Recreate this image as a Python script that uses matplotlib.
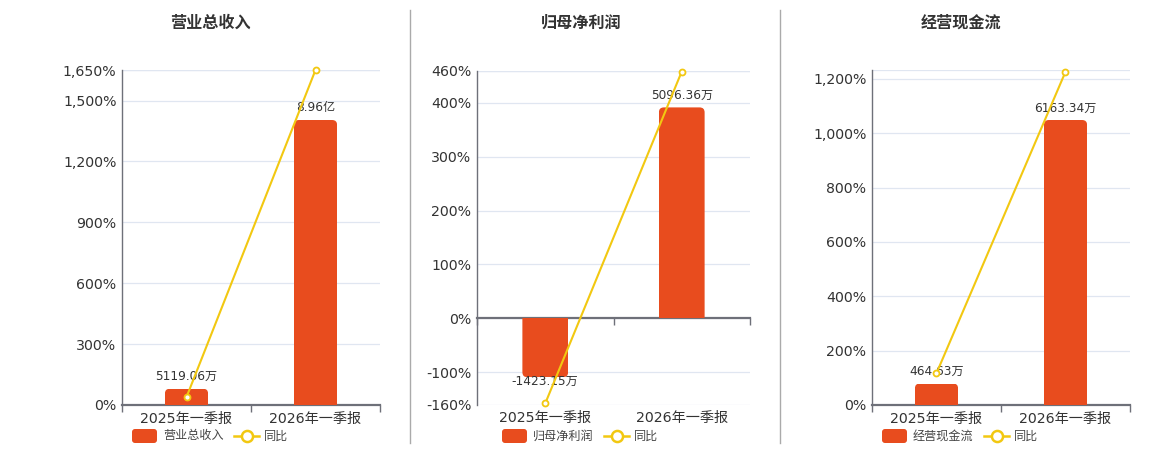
import matplotlib
matplotlib.use("Agg")
import matplotlib.pyplot as plt
from matplotlib.patches import FancyBboxPatch
from matplotlib.lines import Line2D

plt.rcParams['font.family'] = ['DejaVu Sans', 'Noto Sans CJK SC']
plt.rcParams['axes.unicode_minus'] = False

# ---------------- data ----------------
categories = ['2025年一季报', '2026年一季报']

titles = ['营业总收入', '归母净利润', '经营现金流']

revenue = [5119.06, 89600.0]            # 万
revenue_labels = ['5119.06万', '8.96亿']
revenue_yoy = [39.0, 1650.3]             # %

profit = [-1423.15, 5096.36]             # 万
profit_labels = ['-1423.15万', '5096.36万']
profit_yoy = [-158.0, 458.1]

cashflow = [464.63, 6163.34]             # 万
cashflow_labels = ['464.63万', '6163.34万']
cashflow_yoy = [117.0, 1226.5]

revenue_ticks = [0, 300, 600, 900, 1200, 1500, 1650]
profit_ticks = [-160, -100, 0, 100, 200, 300, 400, 460]
cashflow_ticks = [0, 200, 400, 600, 800, 1000, 1200]

legend_line_name = '同比'

# ---------------- style ----------------
W, H = 1160, 450
BAR_C = '#e84c1e'
LINE_C = '#f2c811'
AXIS_C = '#6e7079'
GRID_C = '#e0e6f1'
TEXT_C = '#333333'

fig = plt.figure(figsize=(W / 100, H / 100), dpi=100)


def px_axes(left, top, right, bottom):
    return [left / W, (H - bottom) / H, (right - left) / W, (bottom - top) / H]


def rounded_bars(ax, xs, vals, width, r_px):
    bars = ax.bar(xs, vals, width, color=BAR_C, linewidth=0)
    p0 = ax.transData.transform((0, 0))
    p1 = ax.transData.transform((1, 1))
    xpx = p1[0] - p0[0]
    ypx = p1[1] - p0[1]
    ext = r_px / ypx
    for rect, v in zip(bars.patches, vals):
        x0 = rect.get_x()
        w = rect.get_width()
        if v >= 0:
            yb, hh = -ext, v + ext
        else:
            yb, hh = v, -v + ext
        fp = FancyBboxPatch((x0, yb), w, hh,
                            boxstyle=f"round,pad=0,rounding_size={r_px / xpx}",
                            mutation_aspect=xpx / ypx,
                            facecolor=BAR_C, edgecolor='none', zorder=2)
        ax.add_patch(fp)
        fp.set_clip_path(rect)
        rect.set_visible(False)
    return bars


def panel(box, title, title_x, vals, labels, yoy, ticks, ylim, bar_lim,
          legend_x):
    axg = fig.add_axes(px_axes(*box))
    axg.set_xlim(-0.5, 1.5)
    axg.set_ylim(*ylim)
    axg.set_yticks(ticks)
    axg.set_yticklabels([f'{t:,}%' for t in ticks])
    axg.tick_params(axis='y', length=0, pad=4, labelsize=10.2, labelcolor=TEXT_C)
    axg.set_xticks(range(len(categories)))
    axg.set_xticklabels(categories)
    axg.set_xticks([-0.5, 0.5, 1.5], minor=True)
    axg.tick_params(axis='x', which='major', length=0, pad=5, labelsize=10.2,
                    labelcolor=TEXT_C)
    for s in ['top', 'right']:
        axg.spines[s].set_visible(False)
    axg.spines['left'].set_color(AXIS_C)
    axg.spines['left'].set_linewidth(1.0)
    for t in ticks:
        axg.axhline(t, color=GRID_C, lw=0.9, zorder=0)
    axg.axhline(ylim[1], color=GRID_C, lw=0.9, zorder=0)

    if ylim[0] < 0:
        axg.spines['bottom'].set_visible(False)
        axg.tick_params(axis='x', which='minor', length=0)
        loc = (0 - ylim[0]) / (ylim[1] - ylim[0])
        sec = axg.secondary_xaxis(loc)
        sec.set_xticks([-0.5, 0.5, 1.5])
        sec.set_xticklabels([])
        sec.tick_params(length=5, width=1, color=AXIS_C, direction='out')
        sec.spines['bottom'].set_color(AXIS_C)
        sec.spines['bottom'].set_linewidth(1.6)
    else:
        axg.spines['bottom'].set_color(AXIS_C)
        axg.spines['bottom'].set_linewidth(1.6)
        axg.tick_params(axis='x', which='minor', length=5, width=1,
                        color=AXIS_C)

    axb = axg.twinx()
    axb.set_xlim(-0.5, 1.5)
    axb.set_ylim(*bar_lim)
    axb.axis('off')
    xs = list(range(len(categories)))
    rounded_bars(axb, xs, vals, 0.335, 5)
    for x, v, lab in zip(xs, vals, labels):
        if v >= 0:
            axb.annotate(lab, (x, v), xytext=(0, 4), textcoords='offset points',
                         ha='center', va='bottom', fontsize=8.7, color=TEXT_C)
        else:
            axb.annotate(lab, (x, v), xytext=(0, 1.5), textcoords='offset points',
                         ha='center', va='top', fontsize=8.7, color=TEXT_C)

    axl = axg.twinx()
    axl.set_xlim(-0.5, 1.5)
    axl.set_ylim(*ylim)
    axl.axis('off')
    axl.plot(xs, yoy, color=LINE_C, lw=1.5, marker='o', markersize=4.3,
             markerfacecolor='white', markeredgecolor=LINE_C,
             markeredgewidth=1.3, clip_on=False, zorder=5)

    fig.text(title_x / W, 1 - 23 / H, title, ha='center', va='center',
             fontsize=11.6, fontweight='bold', color=TEXT_C)

    # legend
    lx = legend_x
    ly = 436
    rect = FancyBboxPatch((lx / W, (H - ly - 7) / H), 25 / W, 14 / H,
                          boxstyle=f"round,pad=0,rounding_size={3 / W}",
                          mutation_aspect=W / H, transform=fig.transFigure,
                          facecolor=BAR_C, edgecolor='none')
    fig.add_artist(rect)
    fig.text((lx + 31) / W, 1 - ly / H, title, ha='left', va='center',
             fontsize=8.7, color='#444444')
    l2x = lx + 102
    fig.add_artist(Line2D([l2x / W, (l2x + 25) / W], [1 - ly / H, 1 - ly / H],
                          transform=fig.transFigure, color=LINE_C, lw=1.8))
    fig.add_artist(Line2D([(l2x + 12.5) / W], [1 - ly / H],
                          transform=fig.transFigure, marker='o', markersize=8,
                          markerfacecolor='white', markeredgecolor=LINE_C,
                          markeredgewidth=1.8, linestyle='none'))
    fig.text((l2x + 30) / W, 1 - ly / H, legend_line_name, ha='left',
             va='center', fontsize=8.7, color='#444444')


panel((122, 70, 380, 405), titles[0], 210, revenue, revenue_labels,
      revenue_yoy, revenue_ticks, (0, max(revenue_yoy)),
      (0, max(revenue) * 335 / 285), 132)

k = max(profit) / 391.5
panel((477, 70.5, 750, 404.5), titles[1], 581, profit, profit_labels,
      profit_yoy, profit_ticks, (-160, 460), (-160 * k, 460 * k), 502)

panel((872, 70, 1130, 405), titles[2], 961, cashflow, cashflow_labels,
      cashflow_yoy, cashflow_ticks, (0, 1233),
      (0, max(cashflow) * 335 / 285), 882)

# separators
for sx in (410, 780):
    fig.add_artist(Line2D([sx / W, sx / W], [1 - 10 / H, 1 - 443 / H],
                          transform=fig.transFigure, color='#aaaaaa', lw=1))

fig.savefig('out.png', dpi=100)
